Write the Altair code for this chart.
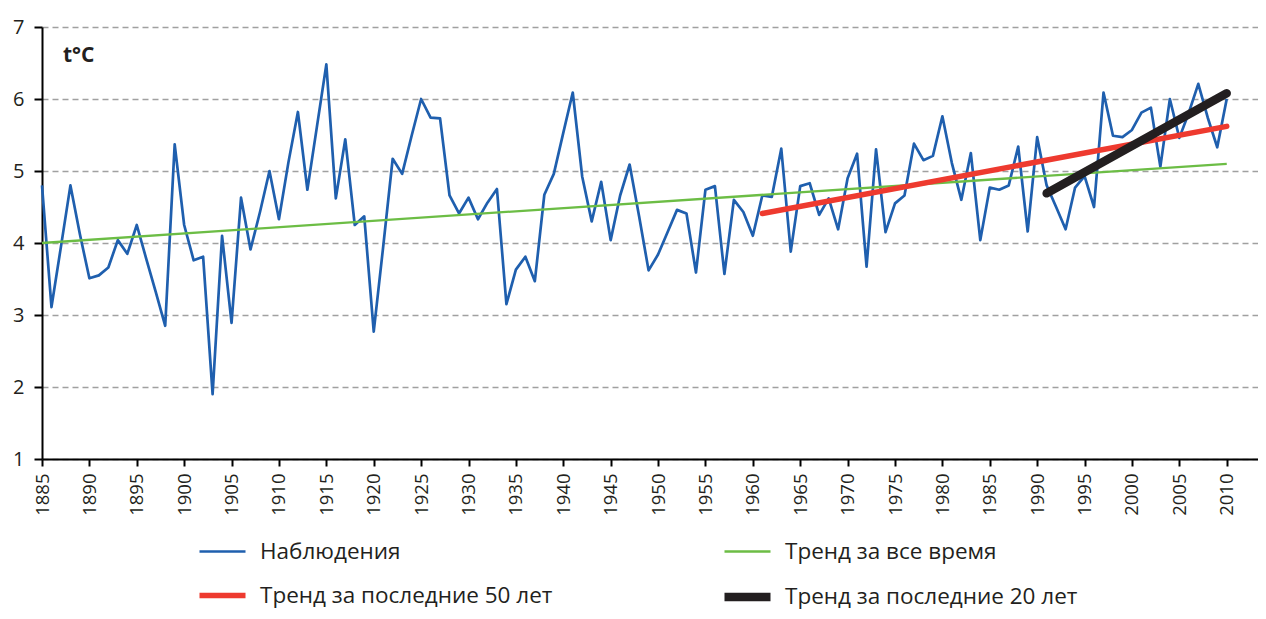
import altair as alt
import pandas as pd

years = list(range(1885, 2011))
temps = [
    4.80, 3.11, 3.95, 4.80, 4.12, 3.51, 3.55, 3.66, 4.04, 3.85,  # 1885-1894
    4.25, 3.78, 3.32, 2.85, 5.37, 4.25, 3.76, 3.81, 1.90, 4.10,  # 1895-1904
    2.89, 4.63, 3.91, 4.43, 5.00, 4.33, 5.12, 5.82, 4.74, 5.61,  # 1905-1914
    6.48, 4.62, 5.44, 4.25, 4.37, 2.77, 3.95, 5.17, 4.96, 5.49,  # 1915-1924
    6.00, 5.74, 5.73, 4.66, 4.41, 4.63, 4.33, 4.56, 4.75, 3.15,  # 1925-1934
    3.63, 3.81, 3.47, 4.67, 4.96, 5.53, 6.09, 4.92, 4.30, 4.85,  # 1935-1944
    4.04, 4.66, 5.09, 4.37, 3.62, 3.84, 4.15, 4.46, 4.41, 3.59,  # 1945-1954
    4.74, 4.79, 3.57, 4.60, 4.43, 4.10, 4.66, 4.64, 5.31, 3.88,  # 1955-1964
    4.79, 4.83, 4.39, 4.62, 4.19, 4.90, 5.24, 3.67, 5.30, 4.15,  # 1965-1974
    4.55, 4.66, 5.38, 5.15, 5.21, 5.76, 5.11, 4.60, 5.25, 4.04,  # 1975-1984
    4.77, 4.74, 4.80, 5.34, 4.16, 5.47, 4.80, 4.50, 4.19, 4.77,  # 1985-1994
    4.93, 4.50, 6.09, 5.49, 5.47, 5.57, 5.81, 5.88, 5.06, 6.00,  # 1995-2004
    5.46, 5.81, 6.21, 5.74, 5.33, 6.00,                          # 2005-2010
]

trend_all_years = [1885, 2010]
trend_all_vals = [4.00, 5.10]
trend50_years = [1961, 2010]
trend50_vals = [4.41, 5.62]
trend20_years = [1991, 2010]
trend20_vals = [4.69, 6.08]

obs_name = "Наблюдения"
all_name = "Тренд за все время"
t50_name = "Тренд за последние 50 лет"
t20_name = "Тренд за последние 20 лет"

# legend order (filled column by column): left column, then right column
legend_order = [obs_name, t50_name, all_name, t20_name]
legend_colors = ["#1f5fae", "#ee3a2f", "#6cbd45", "#231f20"]
legend_widths = [2.7, 5.5, 2.3, 8.5]
# drawing order (bottom to top)
draw_order = [obs_name, all_name, t50_name, t20_name]

rows = []
for yr, v in zip(years, temps):
    rows.append({"year": yr, "temp": v, "series": obs_name})
for yr, v in zip(trend_all_years, trend_all_vals):
    rows.append({"year": yr, "temp": v, "series": all_name})
for yr, v in zip(trend50_years, trend50_vals):
    rows.append({"year": yr, "temp": v, "series": t50_name})
for yr, v in zip(trend20_years, trend20_vals):
    rows.append({"year": yr, "temp": v, "series": t20_name})
df = pd.DataFrame(rows)

FONT = "Open Sans"
legend = alt.Legend(
    title=None,
    orient="none",
    legendX=153,
    legendY=500,
    columns=2,
    columnPadding=154,
    rowPadding=6.5,
    symbolType="stroke",
    symbolSize=2116,
    labelOffset=10,
    labelFont=FONT,
    labelFontSize=22.5,
    labelColor="#231f20",
    labelLimit=600,
)

x_enc = alt.X(
    "year:Q",
    scale=alt.Scale(domain=[1885, 2013.3], nice=False, zero=False),
    axis=alt.Axis(
        values=list(range(1885, 2011, 5)),
        format="d",
        labelAngle=270,
        grid=False,
        domainColor="#000000",
        domainWidth=2,
        tickColor="#000000",
        tickWidth=2,
        tickSize=7,
        labelFont=FONT,
        labelFontSize=18.5,
        labelColor="#231f20",
        labelPadding=7,
        labelOverlap=False,
    ),
    title=None,
)
y_enc = alt.Y(
    "temp:Q",
    scale=alt.Scale(domain=[1, 7], nice=False, zero=False),
    axis=alt.Axis(
        values=[1, 2, 3, 4, 5, 6, 7],
        format="d",
        grid=True,
        gridDash=[6, 4],
        gridColor="#a0a0a0",
        gridWidth=1.6,
        domainColor="#000000",
        domainWidth=2,
        tickColor="#000000",
        tickWidth=2,
        tickSize=8,
        labelFont=FONT,
        labelFontSize=20,
        labelColor="#231f20",
        labelPadding=10,
    ),
    title=None,
)
color_enc = alt.Color(
    "series:N",
    scale=alt.Scale(domain=legend_order, range=legend_colors),
    legend=legend,
)
width_enc = alt.StrokeWidth(
    "series:N",
    scale=alt.Scale(type="ordinal", domain=legend_order, range=legend_widths),
    legend=legend,
)

base = alt.Chart(df).encode(x=x_enc, y=y_enc, color=color_enc, strokeWidth=width_enc)

layers = []
for s in draw_order:
    cap = "butt" if s in (obs_name, all_name) else "round"
    layers.append(
        base.transform_filter(alt.datum.series == s).mark_line(strokeCap=cap, strokeJoin="round")
    )

unit = alt.Chart(pd.DataFrame({"t": ["t°C"]})).mark_text(
    font=FONT, fontSize=21, fontWeight="bold", align="left", baseline="alphabetic", color="#231f20"
).encode(text="t:N", x=alt.value(21), y=alt.value(35))

chart = alt.layer(*layers, unit).properties(
    width=1216,
    height=432,
    autosize=alt.AutoSizeParams(type="none"),
    padding={"left": 34, "top": 19, "right": 0, "bottom": 152},
).configure_view(stroke=None)

chart.save("out.html", embed_options={"renderer": "svg", "actions": False})
